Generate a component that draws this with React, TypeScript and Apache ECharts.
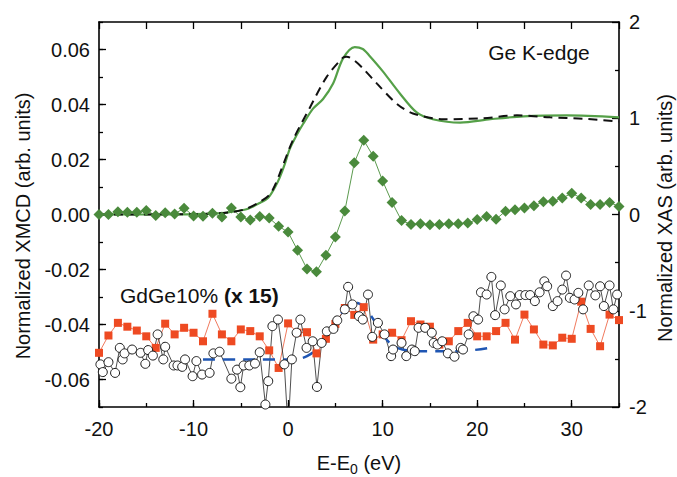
import React, { useEffect, useRef } from "react";
import * as echarts from "echarts";

const FONT = "'Liberation Sans', Arial, sans-serif";

// XMCD (green diamonds), left axis
const xmcdEnergy = [-20, -19, -18, -17, -16, -15, -14, -13, -12, -11, -10, -9, -8, -7, -6, -5, -4, -3, -2, -1, 0, 1, 2, 3, 4, 5, 6, 7, 8, 9, 10, 11, 12, 13, 14, 15, 16, 17, 18, 19, 20, 21, 22, 23, 24, 25, 26, 27, 28, 29, 30, 31, 32, 33, 34, 35];
const xmcdGe = [0.0, 0.0, 0.001, 0.0008, 0.0008, 0.0015, -0.0004, 0.0006, 0.0002, 0.0023, -0.0005, -0.0006, 0.0005, -0.0009, 0.0024, -0.0009, -0.002, -0.0007, -0.0013, -0.0043, -0.0064, -0.013, -0.0198, -0.0208, -0.0148, -0.0082, 0.0013, 0.0188, 0.027, 0.0212, 0.0122, 0.0044, -0.0022, -0.0036, -0.0034, -0.0037, -0.0036, -0.0034, -0.0034, -0.0031, -0.0018, -0.0007, -0.0017, 0.0012, 0.0017, 0.0024, 0.0032, 0.0046, 0.0048, 0.006, 0.0077, 0.006, 0.0036, 0.0036, 0.0044, 0.0029];

// GdGe10% (x 15), red squares, left axis
const redY = [-0.0503, -0.044, -0.0394, -0.0408, -0.0422, -0.0443, -0.0485, -0.0397, -0.0436, -0.0412, -0.043, -0.0461, -0.0361, -0.0436, -0.0461, -0.0418, -0.0424, -0.0443, -0.0494, -0.0558, -0.0396, -0.043, -0.0428, -0.0505, -0.0452, -0.0398, -0.034, -0.0365, -0.0337, -0.0455, -0.0436, -0.043, -0.0457, -0.0388, -0.04, -0.0408, -0.0473, -0.0461, -0.0424, -0.0394, -0.0443, -0.0443, -0.0424, -0.0394, -0.0455, -0.0364, -0.0418, -0.0473, -0.0476, -0.0448, -0.0452, -0.0317, -0.0416, -0.0479, -0.0364, -0.0384];

// GdGe10% (x 15), open circles, left axis
const circleX = [-19.85, -19.6, -19.0, -18.3, -17.8, -17.5, -17.3, -16.5, -15.6, -15.1, -14.8, -14.3, -13.8, -13.2, -13.0, -12.1, -11.7, -11.2, -10.9, -10.1, -9.7, -9.1, -8.3, -7.9, -7.25, -6.0, -5.4, -5.05, -4.7, -4.1, -3.5, -3.0, -2.4, -2.1, -1.66, -1.07, -0.4, 0.0, 0.4, 0.9, 1.3, 1.95, 2.6, 3.05, 3.55, 4.1, 4.8, 5.2, 6.0, 6.35, 6.8, 7.5, 7.9, 8.45, 8.9, 9.5, 10.2, 10.9, 11.1, 12.0, 12.5, 13.1, 13.4, 13.8, 14.5, 15.2, 15.4, 15.8, 16.3, 16.9, 17.6, 18.25, 18.5, 19.1, 19.6, 20.1, 20.4, 21.0, 21.5, 21.9, 22.5, 22.9, 23.5, 24.1, 24.5, 25.1, 25.6, 26.1, 26.6, 27.1, 27.4, 28.0, 28.5, 29.0, 29.4, 29.8, 30.3, 30.7, 31.2, 31.8, 32.5, 33.0, 33.4, 34.0, 34.4, 34.8];
const circleY = [-0.0545, -0.0573, -0.0537, -0.0576, -0.0485, -0.0527, -0.0505, -0.0491, -0.0503, -0.0543, -0.0493, -0.0513, -0.0436, -0.0527, -0.0481, -0.0549, -0.0549, -0.0554, -0.0527, -0.0588, -0.0533, -0.0582, -0.0576, -0.0505, -0.0499, -0.0597, -0.0564, -0.0628, -0.0549, -0.0549, -0.0542, -0.0501, -0.0691, -0.0606, -0.0406, -0.0382, -0.0545, -0.078, -0.0527, -0.043, -0.0382, -0.0485, -0.0461, -0.0627, -0.0467, -0.0425, -0.0416, -0.0385, -0.0345, -0.0263, -0.0327, -0.037, -0.0382, -0.0291, -0.0445, -0.0394, -0.0436, -0.0515, -0.0491, -0.0467, -0.0515, -0.0491, -0.0497, -0.0412, -0.0412, -0.043, -0.0467, -0.0473, -0.0461, -0.0505, -0.0517, -0.0485, -0.0491, -0.0436, -0.037, -0.0382, -0.0283, -0.0291, -0.0227, -0.0366, -0.0258, -0.0345, -0.0297, -0.0327, -0.0293, -0.0293, -0.0293, -0.0315, -0.0283, -0.0243, -0.0261, -0.0333, -0.0315, -0.0273, -0.0222, -0.0303, -0.0309, -0.0285, -0.0345, -0.0258, -0.0294, -0.0261, -0.0333, -0.0258, -0.0345, -0.0291];

// Blue dashed fit, left axis
const fitX = [-9, -5, -2, 0, 1, 2, 3, 4, 5, 6, 7, 8, 9, 10, 11, 12, 13, 15, 17, 19, 21.3];
const fitY = [-0.0527, -0.0527, -0.0527, -0.0527, -0.0525, -0.0515, -0.049, -0.0445, -0.039, -0.0345, -0.032, -0.0335, -0.038, -0.0435, -0.0475, -0.049, -0.0495, -0.0497, -0.0497, -0.0495, -0.0485];

// XAS green solid, right axis
const xasGreenX = [-20, -14, -10, -7, -6.2, -4.4, -3.0, -2.1, -1.4, -0.9, -0.36, 0.17, 0.88, 1.58, 2.64, 3.7, 4.76, 5.8, 7.05, 7.9, 8.6, 10.0, 11.8, 13.6, 15.3, 18.2, 21.4, 24.9, 29.5, 35];
const xasGreenY = [0, 0, 0.003, 0.015, 0.025, 0.055, 0.12, 0.175, 0.28, 0.38, 0.52, 0.68, 0.82, 0.94, 1.1, 1.2, 1.36, 1.62, 1.74, 1.72, 1.65, 1.49, 1.26, 1.06, 0.99, 0.955, 0.99, 1.02, 1.03, 1.01];

// XAS black dashed, right axis
const xasBlackX = [-20, -10, -6, -4.4, -3, -2, -1.5, -0.9, 0.5, 2.3, 4.05, 5.8, 6.2, 7.0, 7.9, 9.4, 11.5, 13.2, 16.4, 20.6, 24.2, 27.7, 31.2, 35];
const xasBlackY = [0, 0.003, 0.025, 0.06, 0.13, 0.2, 0.28, 0.42, 0.77, 1.11, 1.425, 1.63, 1.64, 1.6, 1.52, 1.36, 1.15, 1.05, 0.99, 1.0, 1.03, 1.01, 0.995, 0.965];

const zip = (xs: number[], ys: number[]) => xs.map((x, i) => [x, ys[i]]);

export default function App() {
  const ref = useRef<HTMLDivElement>(null);
  useEffect(() => {
    if (!ref.current) return;
    const chart = echarts.init(ref.current, undefined, { renderer: "svg" });
    const mkLine = () => ({ show: true, onZero: false, lineStyle: { color: "#000", width: 1.6 } });
    const noLine = () => ({ show: false, onZero: false });
    const mkTick = (len: number) => ({ show: true, inside: true, length: len, lineStyle: { color: "#000", width: 1.3 } });
    const option: any = {
      animation: false,
      backgroundColor: "#fff",
      textStyle: { fontFamily: FONT },
      grid: { left: 99, right: 58, top: 22, bottom: 70, containLabel: false },
      xAxis: [
        {
          type: "value", min: -20, max: 35, interval: 10, position: "bottom",
          axisLine: mkLine(), axisTick: mkTick(7),
          axisLabel: { fontSize: 20, color: "#111", margin: 12, fontFamily: FONT, showMaxLabel: false },
          splitLine: { show: false },
        },
        {
          type: "value", min: -20, max: 35, interval: 5, position: "bottom",
          axisLine: noLine(), axisTick: mkTick(4),
          axisLabel: { show: false }, splitLine: { show: false },
        },
        {
          type: "value", min: -20, max: 35, interval: 5, position: "top",
          axisLine: mkLine(), axisTick: mkTick(7),
          axisLabel: { show: false }, splitLine: { show: false },
        },
      ],
      yAxis: [
        {
          type: "value", min: -0.07, max: 0.07, splitNumber: 7, position: "left",
          axisLine: mkLine(), axisTick: mkTick(7),
          axisLabel: {
            fontSize: 20, color: "#111", margin: 9, fontFamily: FONT,
            showMinLabel: false, showMaxLabel: false,
            formatter: (v: number) => v.toFixed(2),
          },
          splitLine: { show: false },
        },
        {
          type: "value", min: -0.07, max: 0.07, interval: 0.01, position: "left",
          axisLine: noLine(), axisTick: mkTick(4),
          axisLabel: { show: false }, splitLine: { show: false },
        },
        {
          type: "value", min: -2, max: 2, interval: 1, position: "right",
          axisLine: mkLine(), axisTick: mkTick(7),
          minorTick: { show: true, splitNumber: 2, length: 4, lineStyle: { color: "#000", width: 1.3 } },
          axisLabel: { fontSize: 20, color: "#111", margin: 10, fontFamily: FONT },
          splitLine: { show: false },
        },
      ],
      series: [
        {
          type: "line", xAxisIndex: 0, yAxisIndex: 0, data: zip(xmcdEnergy, redY),
          symbol: "rect", symbolSize: 8, lineStyle: { color: "#f07a5e", width: 1 },
          itemStyle: { color: "#ee4a22" },
        },
        {
          type: "line", xAxisIndex: 0, yAxisIndex: 0, data: zip(circleX, circleY),
          symbol: "circle", symbolSize: 9, lineStyle: { color: "#222", width: 0.8 },
          itemStyle: { color: "#fff", borderColor: "#1a1a1a", borderWidth: 1 },
        },
        {
          type: "line", xAxisIndex: 0, yAxisIndex: 0, data: zip(fitX, fitY), smooth: 0.4,
          showSymbol: false, symbol: "none", lineStyle: { color: "#1f56b3", width: 2.5, type: [12, 8] },
        },
        {
          type: "line", xAxisIndex: 0, yAxisIndex: 0, data: zip(xmcdEnergy, xmcdGe),
          symbol: "diamond", symbolSize: 11, lineStyle: { color: "#5b9a4e", width: 1 },
          itemStyle: { color: "#4a8a3c" },
        },
        {
          type: "line", xAxisIndex: 0, yAxisIndex: 2, data: zip(xasGreenX, xasGreenY), smooth: 0.3,
          showSymbol: false, symbol: "none", lineStyle: { color: "#55a048", width: 2.2 },
        },
        {
          type: "line", xAxisIndex: 0, yAxisIndex: 2, data: zip(xasBlackX, xasBlackY), smooth: 0.3,
          showSymbol: false, symbol: "none", lineStyle: { color: "#111", width: 2, type: [9, 6] },
        },
      ],
      graphic: [
        {
          type: "text", x: 539, y: 52,
          style: { text: "Ge K-edge", fontSize: 21, fontFamily: FONT, fill: "#111", align: "center", verticalAlign: "middle" },
        },
        {
          type: "text", x: 120, y: 295,
          style: {
            text: "GdGe10% {b|(x 15)}", fontSize: 21, fontFamily: FONT, fill: "#111", align: "left", verticalAlign: "middle",
            rich: { b: { fontSize: 21, fontWeight: "bold", fontFamily: FONT, fill: "#111" } },
          },
        },
        {
          type: "text", x: 359, y: 463,
          style: {
            text: "E-E{sub|0} (eV)", fontSize: 20, fontFamily: FONT, fill: "#111", align: "center", verticalAlign: "middle",
            rich: { sub: { fontSize: 14, fontFamily: FONT, fill: "#111", padding: [12, 0, 0, 0] } },
          },
        },
        {
          type: "text", x: 23, y: 226, rotation: Math.PI / 2,
          style: { text: "Normalized XMCD (arb. units)", fontSize: 20, fontFamily: FONT, fill: "#111", align: "center", verticalAlign: "middle" },
        },
        {
          type: "text", x: 665, y: 218, rotation: Math.PI / 2,
          style: { text: "Normalized XAS (arb. units)", fontSize: 20, fontFamily: FONT, fill: "#111", align: "center", verticalAlign: "middle" },
        },
      ],
    };
    chart.setOption(option);
    return () => chart.dispose();
  }, []);
  return <div ref={ref} style={{ position: "absolute", left: 0, top: 0, width: 677, height: 477 }} />;
}
